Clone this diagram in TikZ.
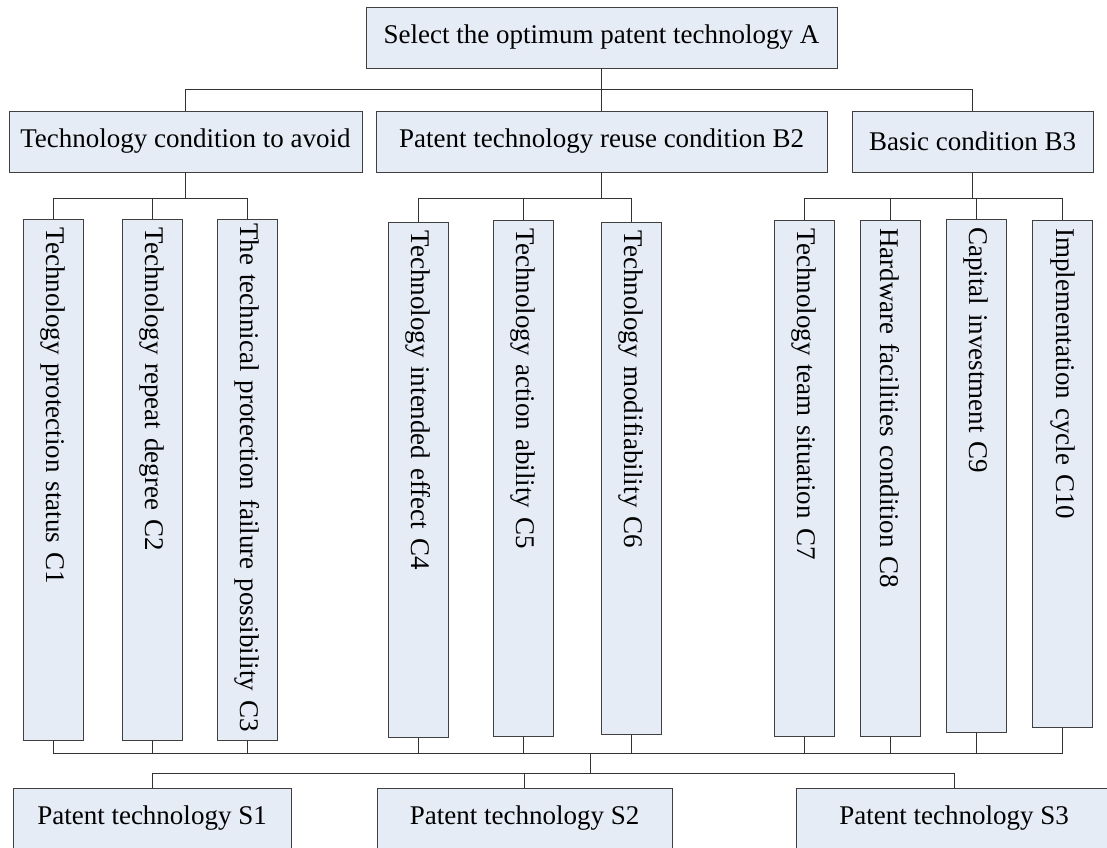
\documentclass[tikz,border=0pt]{standalone}
\usepackage{fontspec}
\setmainfont{Liberation Serif}
\definecolor{boxfill}{RGB}{229,236,246}

\begin{document}
\begin{tikzpicture}[x=1pt,y=-1pt,
	font=\fontsize{27}{31}\selectfont,
	box/.style={draw=black!75, line width=0.8pt, fill=boxfill, minimum height=61pt, inner sep=0pt},
	cbox/.style={box, rotate=-90, anchor=west, minimum height=60pt, inner xsep=4pt, align=left},
	link/.style={draw=black!80, line width=0.8pt}]
	\useasboundingbox (0,0) rectangle (1107,847);
	% goal and criteria
	\node[box, minimum width=471pt] (A) at (601.5,37.5) {Select the optimum patent technology A};
	\node[box, minimum width=353pt] (B1) at (185.5,141.5) {Technology condition to avoid};
	\node[box, minimum width=451pt] (B2) at (601.5,141.5) {Patent technology reuse condition B2};
	\node[box, minimum width=241pt] (B3) at (972.5,141.5) {Basic condition B3};
	% sub-criteria
	\node[cbox, text width=513pt] (C1) at (53,219) {\hspace{4pt}Technology protection status C1};
	\node[cbox, text width=513pt] (C2) at (152,219) {\hspace{4pt}Technology repeat degree C2};
	\node[cbox, text width=513pt] (C3) at (247,219) {The technical protection failure possibility C3};
	\node[cbox, text width=507pt] (C4) at (418,222) {\hspace{4pt}Technology intended effect C4};
	\node[cbox, text width=508pt] (C5) at (523,220) {\hspace{4pt}Technology action ability C5};
	\node[cbox, text width=504pt] (C6) at (631.5,222) {\hspace{4pt}Technology modifiability C6};
	\node[cbox, text width=508pt] (C7) at (804,220) {\hspace{4pt}Technology team situation C7};
	\node[cbox, text width=508pt] (C8) at (890,220) {\hspace{4pt}Hardware facilities condition C8};
	\node[cbox, text width=505pt] (C9) at (976,219) {\hspace{4pt}Capital investment C9};
	\node[cbox, text width=499pt] (C10) at (1062.5,220) {\hspace{4pt}Implementation cycle C10};
	% alternatives
	\node[box, minimum width=278pt, minimum height=60pt] (S1) at (152,818) {Patent technology S1};
	\node[box, minimum width=295pt, minimum height=60pt] (S2) at (524.5,818) {Patent technology S2};
	\node[box, minimum width=316pt, minimum height=60pt] (S3) at (954,818) {Patent technology S3};
	% connectors
	\coordinate (topbus) at (0,89);
	\coordinate (midbus) at (0,198);
	\coordinate (lowbus) at (590,753);
	\coordinate (sbus) at (590,773);
	\draw[link] (A) -- (B2);
	\draw[link] (B1) -- (B1 |- topbus) -- (B3 |- topbus) -- (B3);
	\foreach \b/\l/\r in {B1/C1/C3, B2/C4/C6, B3/C7/C10}
		\draw[link] (\b) -- (\b |- midbus) (\l.west |- midbus) -- (\r.west |- midbus);
	\foreach \i in {1,...,10}
		\draw[link] (C\i.west) -- (C\i.west |- midbus) (C\i.east) -- (C\i.east |- lowbus);
	\draw[link] (C1.east |- lowbus) -- (C10.east |- lowbus);
	\draw[link] (lowbus) -- (sbus);
	\draw[link] (S1 |- sbus) -- (S3 |- sbus);
	\foreach \s in {S1,S2,S3}
		\draw[link] (\s) -- (\s |- sbus);
\end{tikzpicture}
\end{document}
